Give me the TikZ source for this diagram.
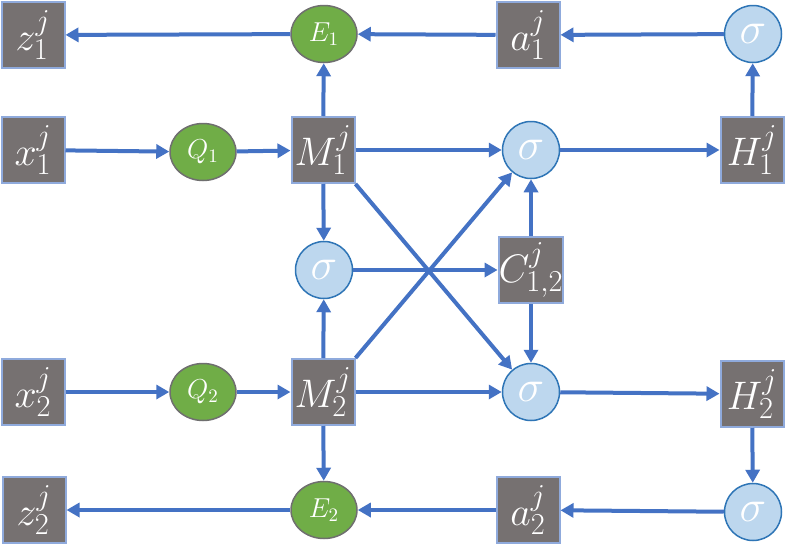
\RequirePackage{fix-cm}
\documentclass[tikz,border=0pt]{standalone}
\usetikzlibrary{shapes.geometric,arrows.meta}
\definecolor{boxgray}{HTML}{767171}
\definecolor{boxedge}{HTML}{8FAADC}
\definecolor{arrowblue}{HTML}{4472C4}
\definecolor{greenfill}{HTML}{70AD47}
\definecolor{greenedge}{HTML}{6F6F6F}
\definecolor{sigfill}{HTML}{BDD7EE}
\definecolor{sigedge}{HTML}{2E75B6}
\DeclareMathSizes{24.88}{24.88}{19}{15}
\DeclareMathSizes{17.28}{17.28}{13}{10}
\newcommand{\biglbl}[1]{\scalebox{1.6}{$#1$}}
\newcommand{\gatelbl}[1]{\scalebox{1.9}{$#1$}}
\newcommand{\siglbl}{\scalebox{1.8}{$\sigma$}}
\begin{document}
\begin{tikzpicture}[x=1pt,y=-1pt,
 var/.style={rectangle, fill=boxgray, draw=boxedge, line width=2pt, minimum width=63pt, minimum height=66pt, inner sep=0pt, text=white, font=\Huge},
 gate/.style={ellipse, fill=greenfill, draw=greenedge, line width=1.5pt, minimum width=66pt, minimum height=57pt, inner sep=0pt, text=white, font=\Large},
 sig/.style={circle, fill=sigfill, draw=sigedge, line width=1.5pt, minimum size=57pt, inner sep=0pt, text=white, font=\Huge},
 conn/.style={draw=arrowblue, line width=4pt, -{Triangle[length=13pt,width=14pt]}}]
\fill[white] (0,0) rectangle (785,552);
\useasboundingbox (0,0) rectangle (785,552);
% row 1
\node[var]  (z1)  at (33,35)  {\biglbl{z_1^j}};
\node[gate] (E1)  at (324,34) {\gatelbl{E_1}};
\node[var]  (a1)  at (528,35) {\biglbl{a_1^j}};
\node[sig]  (sTR) at (753,34) {\siglbl};
% row 2
\node[var]  (x1)  at (33,150)  {\biglbl{x_1^j}};
\node[gate] (Q1)  at (203,152) {\gatelbl{Q_1}};
\node[var]  (M1)  at (323,150) {\biglbl{M_1^j}};
\node[sig]  (s1)  at (531,150) {\siglbl};
\node[var]  (H1)  at (752,150) {\biglbl{H_1^j}};
% row 3
\node[sig]  (sL)  at (324,270) {\siglbl};
\node[var]  (C)   at (531,270) {\biglbl{C_{1,2}^j}};
% row 4
\node[var]  (x2)  at (33,392)  {\biglbl{x_2^j}};
\node[gate] (Q2)  at (203,392) {\gatelbl{Q_2}};
\node[var]  (M2)  at (323,392) {\biglbl{M_2^j}};
\node[sig]  (s2)  at (531,392) {\siglbl};
\node[var]  (H2)  at (752,394) {\biglbl{H_2^j}};
% row 5
\node[var]  (z2)  at (34,510)  {\biglbl{z_2^j}};
\node[gate] (E2)  at (324,510) {\gatelbl{E_2}};
\node[var]  (a2)  at (528,510) {\biglbl{a_2^j}};
\node[sig]  (sBR) at (753,512) {\siglbl};
% connectors
\draw[conn] (E1) -- (z1);
\draw[conn] (a1) -- (E1);
\draw[conn] (sTR) -- (a1);
\draw[conn] (H1) -- (sTR);
\draw[conn] (x1) -- (Q1);
\draw[conn] (Q1) -- (M1);
\draw[conn] (M1) -- (E1);
\draw[conn] (M1) -- (s1);
\draw[conn] (s1) -- (H1);
\draw[conn] (M1) -- (sL);
\draw[conn] (M2) -- (sL);
\draw[conn] (sL) -- (C);
\draw[conn] (C) -- (s1);
\draw[conn] (C) -- (s2);
\draw[conn] (M1.south east) -- (s2);
\draw[conn] (M2.north east) -- (s1);
\draw[conn] (x2) -- (Q2);
\draw[conn] (Q2) -- (M2);
\draw[conn] (M2) -- (s2);
\draw[conn] (s2) -- (H2);
\draw[conn] (H2) -- (sBR);
\draw[conn] (sBR) -- (a2);
\draw[conn] (a2) -- (E2);
\draw[conn] (E2) -- (z2);
\draw[conn] (M2) -- (E2);
\end{tikzpicture}
\end{document}
